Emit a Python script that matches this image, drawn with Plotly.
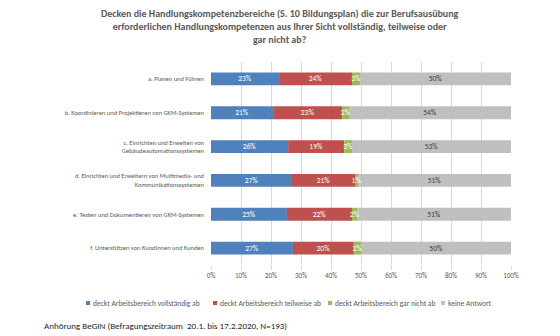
import plotly.graph_objects as go

categories = [
    "a. Planen und Führen",
    "b. Koordinieren und Projektieren von GKM-Systemen",
    "c. Einrichten und Erweiten von<br>Gebäudeautomationssystemen",
    "d. Einrichten und Erweitern von Multimedia- und<br>Kommunikationssystemen",
    "e. Testen und Dokumentieren von GKM-Systemen",
    "f. Unterstützen von KundInnen und Kunden",
]
vollstaendig = [22.7, 20.7, 25.7, 27.0, 25.3, 27.3]
teilweise = [24.3, 23.0, 18.7, 21.0, 21.7, 20.3]
gar_nicht = [2.7, 2.3, 2.6, 1.0, 1.7, 2.5]
keine = [50.3, 54.0, 53.0, 51.0, 51.3, 49.9]

series = [
    ("deckt Arbeitsbereich vollständig ab", vollstaendig, "#4F81BD", "white"),
    ("deckt Arbeitsbereich teilweise ab", teilweise, "#C0504D", "white"),
    ("deckt Arbeitsbereich gar nicht ab", gar_nicht, "#9BBB59", "white"),
    ("keine Antwort", keine, "#BFBFBF", "#404040"),
]

FONT = "Carlito, Calibri, 'Liberation Sans Narrow', 'Arial Narrow', 'Open Sans', sans-serif"

W, H = 560, 336
L, R, T, B = 211, 49, 62, 71
PW, PH = W - L - R, H - T - B


def px(x):
    return (x - L) / PW


def py(y):
    return (H - B - y) / PH


# cumulative bases so that drawing order can differ from stacking order
bases = []
running = [0.0] * len(categories)
for _, vals, _, _ in series:
    bases.append(list(running))
    running = [r + v for r, v in zip(running, vals)]

draw_order = [0, 1, 3, 2]  # draw green last so its small labels stay visible
fig = go.Figure()
for i in draw_order:
    name, vals, color, tcolor = series[i]
    fig.add_trace(go.Bar(
        name=name, y=categories, x=vals, base=bases[i], orientation="h",
        marker=dict(color=color, line=dict(width=0)),
        text=[f"{round(v):.0f}%" for v in vals],
        textposition="inside", insidetextanchor="middle", textangle=0,
        textfont=dict(color=tcolor, size=7.5, family=FONT),
        constraintext="none", cliponaxis=False, showlegend=False,
    ))

fig.update_layout(
    barmode="overlay",
    bargap=0.62,
    width=W, height=H,
    margin=dict(l=L, r=R, t=T, b=B),
    paper_bgcolor="white", plot_bgcolor="white",
    font=dict(family=FONT, size=7, color="#595959"),
    uniformtext=dict(minsize=6, mode="show"),
    showlegend=False,
)

# custom legend (single row like the original)
legend_x = [88, 215, 330, 443]
legend_y = 303
for (name, _, color, _), lx in zip(series, legend_x):
    fig.add_shape(
        type="rect", xref="paper", yref="paper",
        x0=px(lx - 2), x1=px(lx + 2), y0=py(legend_y + 2), y1=py(legend_y - 2),
        fillcolor=color, line=dict(width=0),
    )
    fig.add_annotation(
        text=name, xref="paper", yref="paper", x=px(lx + 3), xanchor="left",
        y=py(legend_y), yanchor="middle", showarrow=False,
        font=dict(family=FONT, size=7.5, color="#595959"),
    )

fig.add_annotation(
    text="<b>Decken die Handlungskompetenzbereiche (S. 10 Bildungsplan) die zur Berufsausübung<br>erforderlichen Handlungskompetenzen aus Ihrer Sicht vollständig, teilweise oder<br>gar nicht ab?</b>",
    xref="paper", yref="paper", x=px(280), xanchor="center",
    y=py(5), yanchor="top", showarrow=False, align="center",
    font=dict(family=FONT, size=10, color="#595959"),
)
fig.update_xaxes(
    range=[0, 100], tickvals=[0, 10, 20, 30, 40, 50, 60, 70, 80, 90, 100],
    ticktext=[f"{v}%" for v in range(0, 101, 10)],
    showgrid=True, gridcolor="#D9D9D9", gridwidth=1, zeroline=False,
    ticks="outside", ticklen=4, tickcolor="#D9D9D9",
    tickfont=dict(size=7, color="#595959"), fixedrange=True,
)
fig.update_yaxes(
    autorange="reversed", showgrid=False, ticks="", ticklabelstandoff=6,
    tickfont=dict(size=6.5, color="#595959"),
)
fig.add_annotation(
    text="Anhörung BeGIN (Befragungszeitraum  20.1. bis 17.2.2020, N=193)",
    xref="paper", yref="paper", x=px(42), xanchor="left",
    y=py(325), yanchor="middle", showarrow=False,
    font=dict(family=FONT, size=9, color="#262626"),
)
fig.write_html("out.html")
